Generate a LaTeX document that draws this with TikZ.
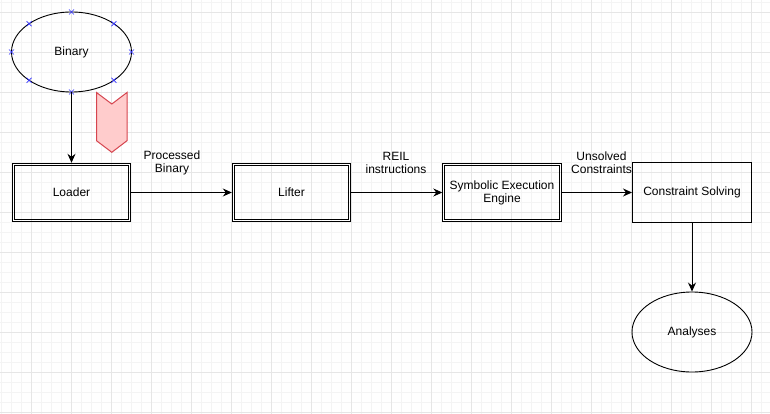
\documentclass[tikz,border=0pt]{standalone}
\usepackage{fontspec}
\setmainfont{Liberation Sans}
\usetikzlibrary{arrows.meta,shapes.geometric,calc}
\definecolor{gridminor}{HTML}{F4F4F4}
\definecolor{gridmajor}{HTML}{E6E6E6}
\definecolor{chevfill}{HTML}{FFCCCC}
\definecolor{chevline}{HTML}{D6454F}
\definecolor{markblue}{HTML}{3333FF}
\tikzset{
  every node/.style={font=\fontsize{12pt}{14pt}\selectfont, align=center, inner sep=0pt},
  dblbox/.style={draw, line width=0.9pt, minimum width=118.5pt, minimum height=58.5pt},
  innerline/.style={line width=0.9pt},
  plainbox/.style={draw, line width=1pt, minimum width=119pt, minimum height=59pt},
  oval/.style={draw, ellipse, line width=0.9pt, minimum width=120pt, minimum height=80pt},
  conn/.style={line width=1pt, -{Stealth[length=9pt,width=8pt,inset=3pt]}},
  lbl/.style={inner sep=0pt},
  xmark/.style={markblue, line width=0.7pt},
}
\begin{document}
\begin{tikzpicture}[x=1pt,y=-1pt]
\useasboundingbox (0,0) rectangle (770,414);
\fill[white] (0,0) rectangle (770,414);
% grid
\foreach \gx in {1,11,...,770} \draw[gridminor, line width=0.8pt] (\gx,0) -- (\gx,414);
\foreach \gy in {2,12,...,414} \draw[gridminor, line width=0.8pt] (0,\gy) -- (770,\gy);
\foreach \gx in {31,71,...,770} \draw[gridmajor, line width=0.9pt] (\gx,0) -- (\gx,414);
\foreach \gy in {12,52,...,414} \draw[gridmajor, line width=0.9pt] (0,\gy) -- (770,\gy);

% nodes
\node[oval] (binary) at (71.5,52) {Binary};
\node[dblbox] (loader) at (71.5,192.5) {Loader};
\node[dblbox] (lifter) at (291.5,192.5) {Lifter};
\node[dblbox] (see) at (502,192.5) {Symbolic Execution\\[-1pt]Engine};
\node[plainbox] (cs) at (692,192.5) {Constraint Solving};
\node[oval] (analyses) at (692,332) {Analyses};

% inner lines of the double boxes
\foreach \n in {loader,lifter,see}
  \draw[innerline] ([shift={(2.3,2.3)}]\n.north west) rectangle ([shift={(-2.3,-2.3)}]\n.south east);

% chevron
\draw[chevline, fill=chevfill, line width=1pt, line join=miter]
  (96.5,92.5) -- (111.8,104) -- (127,92.5) -- (127,140.7) -- (111.8,152.3) -- (96.5,140.7) -- cycle;

% connection markers on Binary
\foreach \ang in {0,45,...,315}
  \draw[xmark] ($(binary.center)+({60*cos(\ang)},{-40*sin(\ang)})+(-2.5,-2.5)$) -- ++(5,5)
               ($(binary.center)+({60*cos(\ang)},{-40*sin(\ang)})+(-2.5,2.5)$) -- ++(5,-5);

% connectors
\draw[conn] (binary.south) -- (loader.north);
\draw[conn] (loader.east) -- (lifter.west);
\draw[conn] (lifter.east) -- (see.west);
\draw[conn] (see.east) -- (cs.west);
\draw[conn] (cs.south) -- (analyses.north);

% labels
\node[lbl] (l1) at (172,163) {Processed\\[-1pt]Binary};
\node[lbl] (l2) at (396,163) {REIL\\[-1pt]instructions};
\node[lbl] (l3) at (601.5,163) {Unsolved\\[-1pt]Constraints};
\end{tikzpicture}
\end{document}
